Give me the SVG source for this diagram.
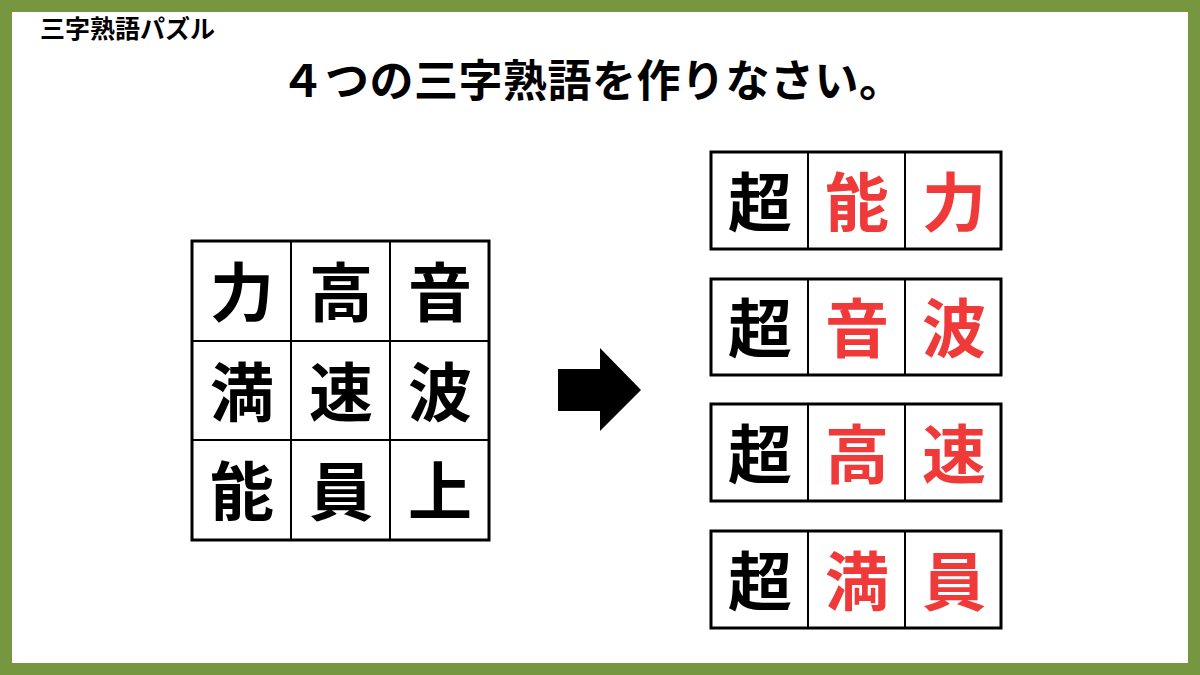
<svg xmlns="http://www.w3.org/2000/svg" width="1200" height="675" viewBox="0 0 1200 675">
<style>
.t{font-family:"Noto Sans CJK JP","Noto Sans",sans-serif;font-weight:bold}
.c{font-family:"Noto Sans CJK JP",sans-serif;font-weight:bold;font-size:64px;text-anchor:middle}
.k{fill:#000}.r{fill:#f03a3a}
.box{fill:#fff;stroke:#000;stroke-width:3}
</style>
<rect width="1200" height="675" fill="#76963f"/>
<rect x="12" y="12" width="1176" height="651" fill="#fff"/>
<text class="t" x="40" y="38" font-size="25">三字熟語パズル</text>
<text class="t" x="592" y="97" font-size="44" text-anchor="middle" letter-spacing="0.5">４つの三字熟語を作りなさい。</text>
<g id="grid">
<rect class="box" x="192" y="241" width="297" height="299"/>
<path d="M291 241V540M390 241V540M192 341H489M192 440H489" stroke="#000" stroke-width="2" fill="none"/>
<g class="c k">
<text x="242" y="316">力</text><text x="341" y="316">高</text><text x="440" y="316">音</text>
<text x="242" y="416">満</text><text x="341" y="416">速</text><text x="440" y="416">波</text>
<text x="242" y="515">能</text><text x="341" y="515">員</text><text x="440" y="515">上</text>
</g>
</g>
<g id="connectors"><path d="M558 369H600V348L641 390L600 431V411H558Z" fill="#000"/></g>
<g id="w1"><rect class="box" x="711" y="152" width="290" height="97"/><path d="M808 152V249M905 152V249" stroke="#000" stroke-width="2"/>
<text class="c k" x="760" y="226">超</text><text class="c r" x="857" y="226">能</text><text class="c r" x="954" y="226">力</text></g>
<g id="w2"><rect class="box" x="711" y="279" width="290" height="96"/><path d="M808 279V375M905 279V375" stroke="#000" stroke-width="2"/>
<text class="c k" x="760" y="352">超</text><text class="c r" x="857" y="352">音</text><text class="c r" x="954" y="352">波</text></g>
<g id="w3"><rect class="box" x="711" y="404" width="290" height="97"/><path d="M808 404V501M905 404V501" stroke="#000" stroke-width="2"/>
<text class="c k" x="760" y="478">超</text><text class="c r" x="857" y="478">高</text><text class="c r" x="954" y="478">速</text></g>
<g id="w4"><rect class="box" x="711" y="531" width="290" height="97"/><path d="M808 531V628M905 531V628" stroke="#000" stroke-width="2"/>
<text class="c k" x="760" y="605">超</text><text class="c r" x="857" y="605">満</text><text class="c r" x="954" y="605">員</text></g>
</svg>
